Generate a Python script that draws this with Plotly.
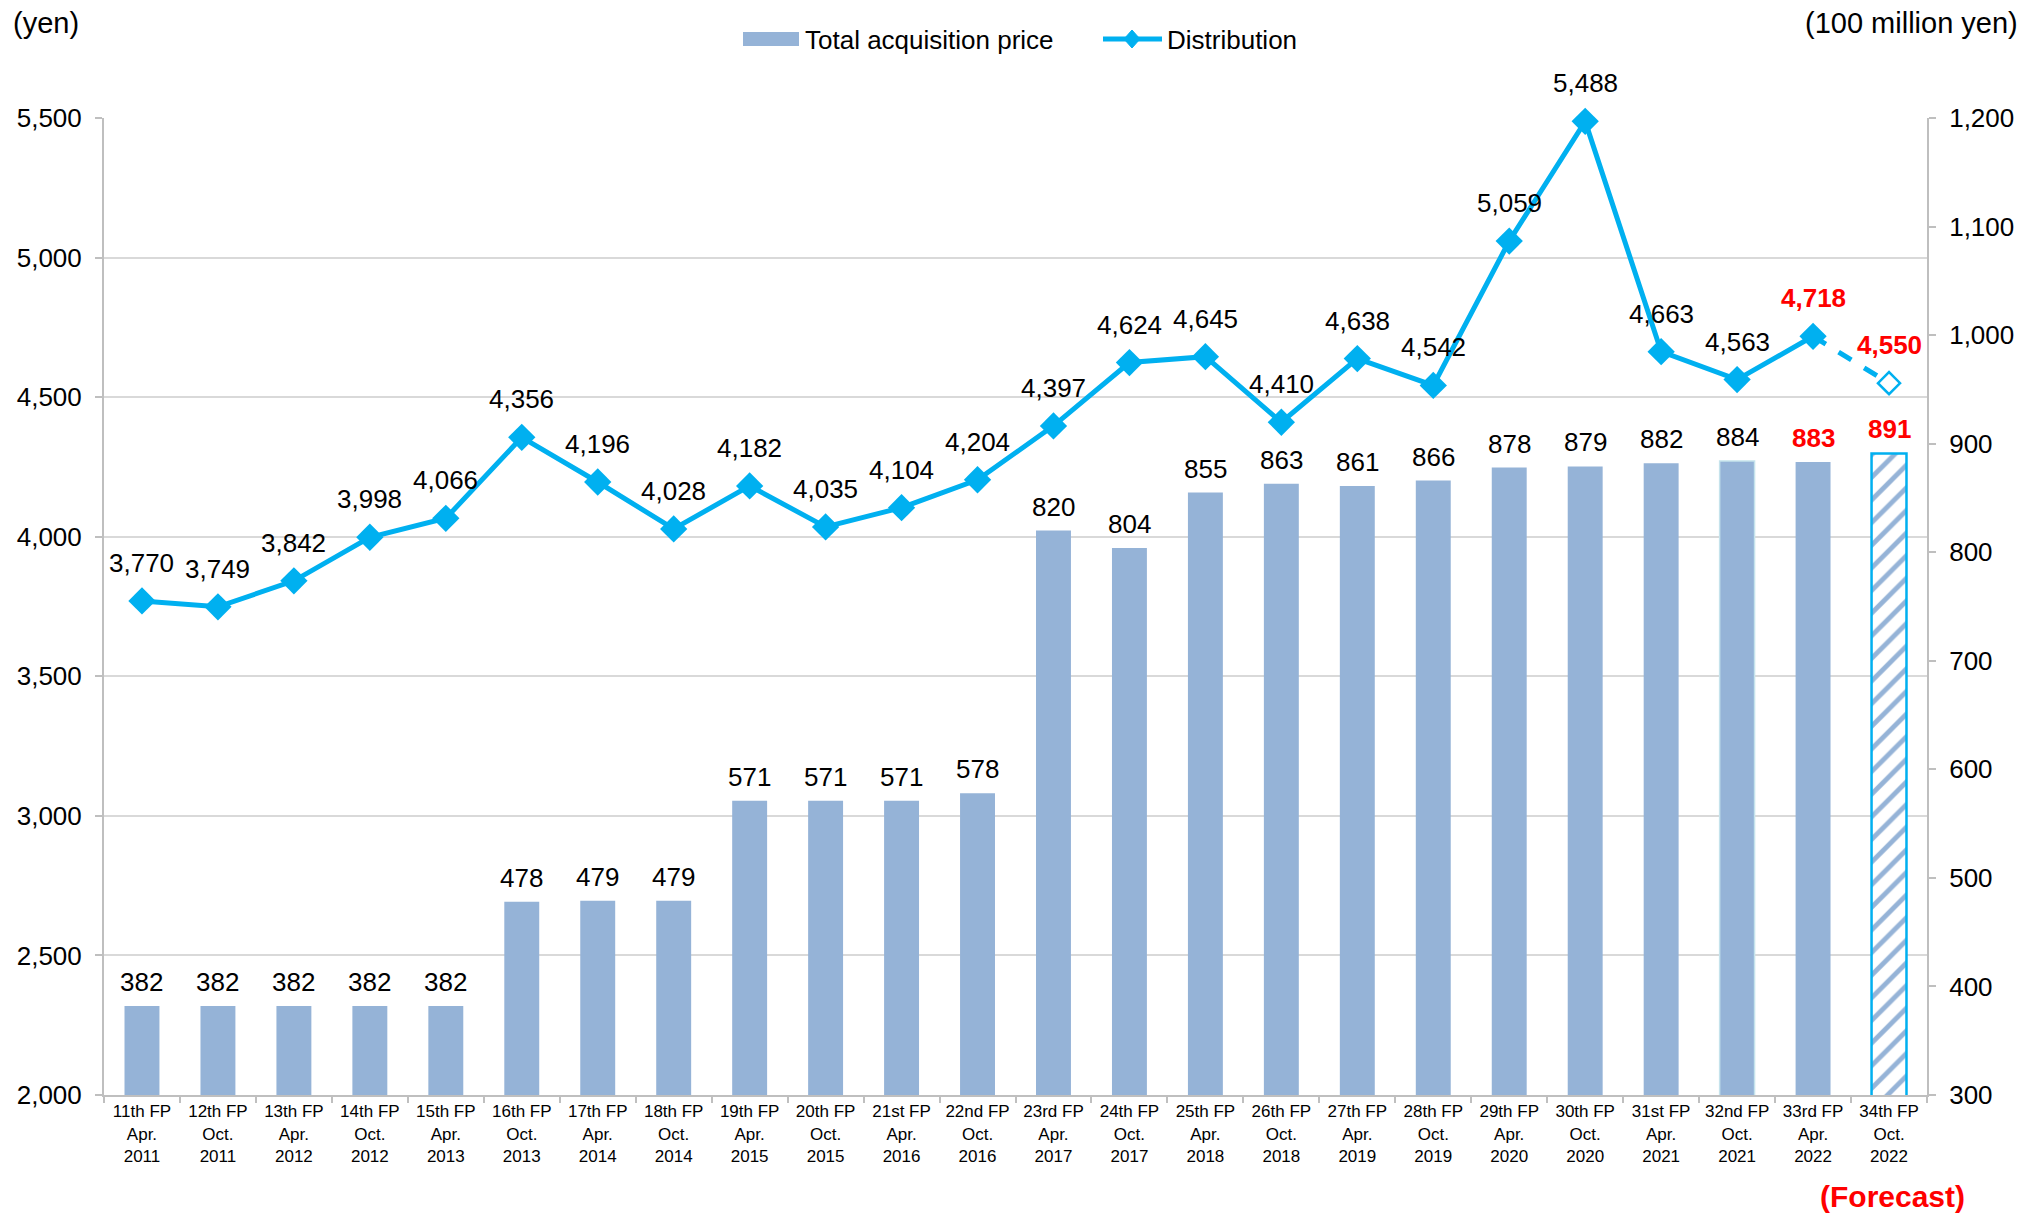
import plotly.graph_objects as go

# Fiscal periods
periods = [
    "11th FP<br>Apr.<br>2011", "12th FP<br>Oct.<br>2011", "13th FP<br>Apr.<br>2012",
    "14th FP<br>Oct.<br>2012", "15th FP<br>Apr.<br>2013", "16th FP<br>Oct.<br>2013",
    "17th FP<br>Apr.<br>2014", "18th FP<br>Oct.<br>2014", "19th FP<br>Apr.<br>2015",
    "20th FP<br>Oct.<br>2015", "21st FP<br>Apr.<br>2016", "22nd FP<br>Oct.<br>2016",
    "23rd FP<br>Apr.<br>2017", "24th FP<br>Oct.<br>2017", "25th FP<br>Apr.<br>2018",
    "26th FP<br>Oct.<br>2018", "27th FP<br>Apr.<br>2019", "28th FP<br>Oct.<br>2019",
    "29th FP<br>Apr.<br>2020", "30th FP<br>Oct.<br>2020", "31st FP<br>Apr.<br>2021",
    "32nd FP<br>Oct.<br>2021", "33rd FP<br>Apr.<br>2022", "34th FP<br>Oct.<br>2022",
]

# Total acquisition price (100 million yen)
acquisition = [382, 382, 382, 382, 382, 478, 479, 479, 571, 571, 571, 578,
               820, 804, 855, 863, 861, 866, 878, 879, 882, 884, 883, 891]

# Distribution per unit (yen); the last value is a forecast
distribution = [3770, 3749, 3842, 3998, 4066, 4356, 4196, 4028, 4182, 4035, 4104, 4204,
                4397, 4624, 4645, 4410, 4638, 4542, 5059, 5488, 4663, 4563, 4718, 4550]

left_ticks = [2000, 2500, 3000, 3500, 4000, 4500, 5000, 5500]
right_ticks = [300, 400, 500, 600, 700, 800, 900, 1000, 1100, 1200]

BAR = "#95B3D7"
LINE = "#00B0F0"
RED = "#FF0000"
FONT = "Liberation Sans, Arial, sans-serif"

W, H = 2042, 1213
ML, MR, MT, MB = 104, 115, 118, 118
PW, PH = W - ML - MR, H - MT - MB


def px(x):
    """Pixel x -> paper x."""
    return (x - ML) / PW


def py(y):
    """Pixel y (from top) -> paper y."""
    return (H - MB - y) / PH


n = len(periods)
highlight = {n - 2, n - 1}

fig = go.Figure()

# Bars (primary y, drawn on the right side); the forecast bar is hatched
line_colors = ["rgba(0,0,0,0)"] * n
line_widths = [0] * n
line_colors[n - 3] = "#C5E3EC"
line_widths[n - 3] = 1.5
line_colors[n - 1] = LINE
line_widths[n - 1] = 2.5
fig.add_trace(go.Bar(
    x=periods, y=acquisition, name="Total acquisition price",
    marker=dict(
        color=BAR,
        line=dict(color=line_colors, width=line_widths),
        pattern=dict(
            shape=[""] * (n - 1) + ["/"],
            fillmode="replace",
            bgcolor="white",
            size=16,
            solidity=0.3,
        ),
    ),
    yaxis="y", xaxis="x", showlegend=False,
))

# Dashed forecast segment
fig.add_trace(go.Scatter(
    x=periods[n - 2:], y=distribution[n - 2:], mode="lines",
    line=dict(color=LINE, width=5, dash="dash"),
    showlegend=False, yaxis="y2", hoverinfo="skip", cliponaxis=False,
))

# Actual distribution line
fig.add_trace(go.Scatter(
    x=periods[:n - 1], y=distribution[:n - 1], mode="lines+markers", name="Distribution",
    line=dict(color=LINE, width=5),
    marker=dict(symbol="diamond", size=21, color=LINE),
    yaxis="y2", showlegend=False, cliponaxis=False,
))

# Forecast marker
fig.add_trace(go.Scatter(
    x=[periods[-1]], y=[distribution[-1]], mode="markers",
    marker=dict(symbol="diamond", size=17, color="white", line=dict(color=LINE, width=2.5)),
    showlegend=False, yaxis="y2", cliponaxis=False,
))

annotations = []
for i in range(n):
    hi = i in highlight
    annotations.append(dict(
        x=periods[i], y=acquisition[i], xref="x", yref="y",
        text=f"<b>{acquisition[i]:,}</b>" if hi else f"{acquisition[i]:,}",
        showarrow=False, yanchor="bottom", yshift=7,
        font=dict(family=FONT, size=26, color=RED if hi else "black"),
    ))
    annotations.append(dict(
        x=periods[i], y=distribution[i], xref="x", yref="y2",
        text=f"<b>{distribution[i]:,}</b>" if hi else f"{distribution[i]:,}",
        showarrow=False, yanchor="bottom", yshift=21,
        font=dict(family=FONT, size=26, color=RED if hi else "black"),
    ))

annotations += [
    dict(x=px(11), y=py(23), xref="paper", yref="paper", xanchor="left", yanchor="middle",
         text="(yen)", showarrow=False, font=dict(family=FONT, size=29, color="black")),
    dict(x=px(2020), y=py(23), xref="paper", yref="paper", xanchor="right", yanchor="middle",
         text="(100 million yen)", showarrow=False, font=dict(family=FONT, size=29, color="black")),
    dict(x=px(1892), y=py(1196), xref="paper", yref="paper", xanchor="center", yanchor="middle",
         text="<b>(Forecast)</b>", showarrow=False, font=dict(family=FONT, size=30, color=RED)),
    # legend texts
    dict(x=px(803), y=py(40), xref="paper", yref="paper", xanchor="left", yanchor="middle",
         text="Total acquisition price", showarrow=False,
         font=dict(family=FONT, size=26, color="black")),
    dict(x=px(1165), y=py(40), xref="paper", yref="paper", xanchor="left", yanchor="middle",
         text="Distribution", showarrow=False,
         font=dict(family=FONT, size=26, color="black")),
]

# Legend swatches
lx, ly = 1132, 39
shapes = [
    dict(type="rect", xref="paper", yref="paper",
         x0=px(743), x1=px(799), y0=py(46), y1=py(32),
         fillcolor=BAR, line=dict(width=0)),
    dict(type="line", xref="paper", yref="paper",
         x0=px(1103), x1=px(1162), y0=py(ly), y1=py(ly),
         line=dict(color=LINE, width=5)),
    dict(type="path", xref="paper", yref="paper",
         path=(f"M {px(lx)} {py(ly - 9)} L {px(lx + 8)} {py(ly)} "
               f"L {px(lx)} {py(ly + 9)} L {px(lx - 8)} {py(ly)} Z"),
         fillcolor=LINE, line=dict(color=LINE, width=1)),
]

fig.update_layout(
    width=W, height=H,
    margin=dict(l=ML, r=MR, t=MT, b=MB),
    paper_bgcolor="white", plot_bgcolor="white",
    font=dict(family=FONT, color="black"),
    bargap=0.54,
    showlegend=False,
    xaxis=dict(
        range=[-0.5, n - 0.5], tickangle=0,
        showline=True, linecolor="#BFBFBF", linewidth=2,
        ticks="outside", ticklen=6, tickcolor="#BFBFBF", tickwidth=2,
        tickson="boundaries", tickfont=dict(family=FONT, size=17),
        showgrid=False,
    ),
    yaxis=dict(
        side="right", range=[300, 1200], tickvals=right_ticks, tickformat=",",
        showline=True, linecolor="#BFBFBF", linewidth=2,
        ticks="outside", ticklen=7, tickcolor="#BFBFBF", tickwidth=2,
        tickfont=dict(family=FONT, size=26), showgrid=False, zeroline=False,
        ticklabelstandoff=8,
    ),
    yaxis2=dict(
        side="left", overlaying="y", range=[2000, 5500], tickvals=left_ticks, tickformat=",",
        showline=True, linecolor="#BFBFBF", linewidth=2,
        ticks="outside", ticklen=7, tickcolor="#BFBFBF", tickwidth=2,
        tickfont=dict(family=FONT, size=26),
        showgrid=True, gridcolor="#D9D9D9", gridwidth=2, zeroline=False,
        ticklabelstandoff=8,
    ),
    annotations=annotations,
    shapes=shapes,
)

fig.write_html("out.html")
